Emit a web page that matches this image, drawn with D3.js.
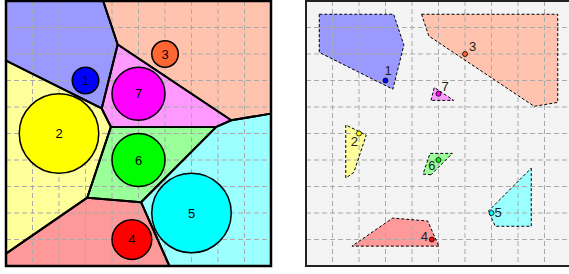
<!DOCTYPE html>
<html><head><meta charset="utf-8">
<script src="https://cdn.jsdelivr.net/npm/d3@7"></script>
<style>body{margin:0;background:#fff;} svg{display:block;} text{font-family:"Liberation Sans",Arial,sans-serif;}</style>
</head><body><svg id="c" width="569" height="274"></svg>
<script>
// ---- data ----
const labels = ["1","2","3","4","5","6","7"];
const siteX = [3, 2, 6, 4.75, 7, 5, 5];
const siteY = [3, 5, 2, 9, 8, 6, 3.5];
const radii = [0.5, 1.5, 0.5, 0.75, 1.5, 1, 1];
const colors = ["#0000ff","#ffff00","#ff6633","#ff0000","#00ffff","#00ff00","#ff00ff"];
const domain = [0, 10];
const gridTicks = [1,2,3,4,5,6,7,8,9];

// ---- setup ----
const svg = d3.select("#c");
const xL = d3.scaleLinear().domain(domain).range([6,271]);
const xR = d3.scaleLinear().domain(domain).range([306,571]);
const y = d3.scaleLinear().domain(domain).range([1,266]);

const sites = labels.map((l,i)=>({label:l, x:siteX[i], y:siteY[i], r:radii[i], w:radii[i]*radii[i], color:colors[i],
  light:d3.interpolateRgb("#ffffff", colors[i])(0.4)}));

function clip(poly, a0, a1, b){ // keep a0*x + a1*y <= b
  const out=[];
  for(let k=0;k<poly.length;k++){
    const P=poly[k], Q=poly[(k+1)%poly.length];
    const fp=a0*P[0]+a1*P[1]-b, fq=a0*Q[0]+a1*Q[1]-b;
    if(fp<=0) out.push(P);
    if((fp<0&&fq>0)||(fp>0&&fq<0)){const t=fp/(fp-fq); out.push([P[0]+t*(Q[0]-P[0]),P[1]+t*(Q[1]-P[1])]);}
  }
  return out;
}
// power cell of site i, eroded by `inset`
function cell(i, inset){
  const lo=domain[0], hi=domain[1];
  let poly=[[lo+inset,lo+inset],[hi-inset,lo+inset],[hi-inset,hi-inset],[lo+inset,hi-inset]];
  const s=sites[i];
  sites.forEach((t,j)=>{
    if(j===i) return;
    const a0=2*(t.x-s.x), a1=2*(t.y-s.y);
    const b=t.x*t.x+t.y*t.y-s.x*s.x-s.y*s.y-t.w+s.w-inset*Math.hypot(a0,a1);
    poly=clip(poly,a0,a1,b);
  });
  return poly;
}
const line=(xs)=>d3.line().x(d=>xs(d[0])).y(d=>y(d[1])).curve(d3.curveLinearClosed);

function grid(g, xs){
  g.selectAll("line.v").data(gridTicks).join("line").attr("class","v")
    .attr("x1",d=>xs(d)).attr("x2",d=>xs(d)).attr("y1",y(domain[0])).attr("y2",y(domain[1]));
  g.selectAll("line.h").data(gridTicks).join("line").attr("class","h")
    .attr("y1",d=>y(d)).attr("y2",d=>y(d)).attr("x1",xs(domain[0])).attr("x2",xs(domain[1]));
  g.attr("stroke","#aaaaaa").attr("stroke-width",1).attr("stroke-dasharray","5,3");
}

// ---- left panel: power diagram ----
const L=svg.append("g");
const cellsL=sites.map((s,i)=>({s, poly:cell(i,0)}));
L.selectAll("path.cell").data(cellsL).join("path").attr("class","cell")
  .attr("d",d=>line(xL)(d.poly)).attr("fill",d=>d.s.light).attr("stroke","none");
grid(L.append("g"), xL);
L.selectAll("path.border").data(cellsL).join("path").attr("class","border")
  .attr("d",d=>line(xL)(d.poly)).attr("fill","none").attr("stroke","#000").attr("stroke-width",2).attr("stroke-linejoin","round");
L.selectAll("circle").data(sites).join("circle")
  .attr("cx",d=>xL(d.x)).attr("cy",d=>y(d.y)).attr("r",d=>xL(d.r)-xL(0))
  .attr("fill",d=>d.color).attr("stroke","#000").attr("stroke-width",1.5);
L.selectAll("text").data(sites).join("text")
  .attr("x",d=>xL(d.x)).attr("y",d=>y(d.y)).attr("dy","0.36em").attr("text-anchor","middle")
  .attr("font-size",13).attr("fill","#000").text(d=>d.label);
L.append("rect").attr("x",xL(domain[0])).attr("y",y(domain[0])).attr("width",xL(domain[1])-xL(domain[0]))
  .attr("height",y(domain[1])-y(domain[0])).attr("fill","none").attr("stroke","#000").attr("stroke-width",2.5);

// ---- right panel: eroded cells ----
const R=svg.append("g");
R.append("rect").attr("x",xR(domain[0])).attr("y",y(domain[0])).attr("width",xR(domain[1])-xR(domain[0]))
  .attr("height",y(domain[1])-y(domain[0])).attr("fill","#f4f4f4");
const cellsR=sites.map((s,i)=>({s, poly:cell(i,s.r)})).filter(d=>d.poly.length>2);
R.selectAll("path.cell").data(cellsR).join("path").attr("class","cell")
  .attr("d",d=>line(xR)(d.poly)).attr("fill",d=>d.s.light).attr("stroke","none");
grid(R.append("g"), xR);
R.selectAll("path.border").data(cellsR).join("path").attr("class","border")
  .attr("d",d=>line(xR)(d.poly)).attr("fill","none").attr("stroke","#000").attr("stroke-width",1).attr("stroke-dasharray","3,2");
R.selectAll("circle").data(sites).join("circle")
  .attr("cx",d=>xR(d.x)).attr("cy",d=>y(d.y)).attr("r",2.5)
  .attr("fill",d=>d.color).attr("stroke","#000").attr("stroke-width",0.8);
const labelPlace={"1":[-1,-5.5,"start"],"2":[-1,12.7,"end"],"3":[4,-3.5,"start"],"4":[-4,1.5,"end"],
  "5":[3,3.5,"start"],"6":[-3,10,"end"],"7":[3,-3,"start"]};
R.selectAll("text").data(sites).join("text")
  .attr("x",d=>xR(d.x)+labelPlace[d.label][0]).attr("y",d=>y(d.y)+labelPlace[d.label][1])
  .attr("text-anchor",d=>labelPlace[d.label][2]).attr("font-size",13).attr("fill","#222").text(d=>d.label);
R.append("rect").attr("x",xR(domain[0])).attr("y",y(domain[0])).attr("width",xR(domain[1])-xR(domain[0]))
  .attr("height",y(domain[1])-y(domain[0])).attr("fill","none").attr("stroke","#222").attr("stroke-width",2);
</script></body></html>
